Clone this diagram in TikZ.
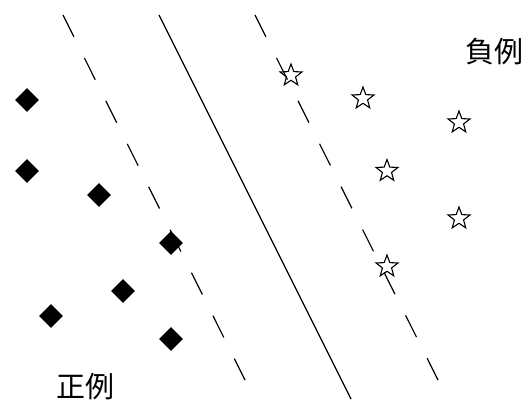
\documentclass[tikz,border=0pt]{standalone}
\usepackage{fontspec}
\newfontfamily\cjk{Noto Sans CJK JP}
\usepackage{tikz}
\usetikzlibrary{shapes.geometric}

\begin{document}
\begin{tikzpicture}[x=1pt, y=-1pt,
    posmark/.style={diamond, fill=black, minimum size=24pt, inner sep=0pt},
    negmark/.style={star, star points=5, star point ratio=2.4, draw, line width=1.1pt, minimum size=23pt, inner sep=0pt},
    margin/.style={line width=1.2pt, dash pattern=on 24.3pt off 23.7pt}]
  \useasboundingbox (0,0) rectangle (525,402);

  \coordinate (M1a) at (63, 15);
  \coordinate (M1b) at (245, 380);
  \coordinate (H1) at (159, 15);
  \coordinate (H2) at (351, 399);
  \coordinate (M2a) at (255, 15);
  \coordinate (M2b) at (438, 380);

  \draw[margin] (M1a) -- (M1b);
  \draw[line width=1.2pt] (H1) -- (H2);
  \draw[margin] (M2a) -- (M2b);

  \node[posmark] (p1) at (27, 100) {};
  \node[posmark] (p2) at (27, 171) {};
  \node[posmark] (p3) at (99, 195) {};
  \node[posmark] (p4) at (171, 243) {};
  \node[posmark] (p5) at (123, 291) {};
  \node[posmark] (p6) at (51, 316) {};
  \node[posmark] (p7) at (171, 339) {};

  \node[negmark] (n1) at (291, 75.5) {};
  \node[negmark] (n2) at (363, 98.5) {};
  \node[negmark] (n3) at (459, 122.5) {};
  \node[negmark] (n4) at (387, 171) {};
  \node[negmark] (n5) at (459, 218.5) {};
  \node[negmark] (n6) at (387, 266.5) {};

  \node[font=\cjk\fontsize{29}{29}\selectfont] (neglabel) at (494, 52) {負例};
  \node[font=\cjk\fontsize{29}{29}\selectfont] (poslabel) at (85, 387) {正例};
\end{tikzpicture}
\end{document}
